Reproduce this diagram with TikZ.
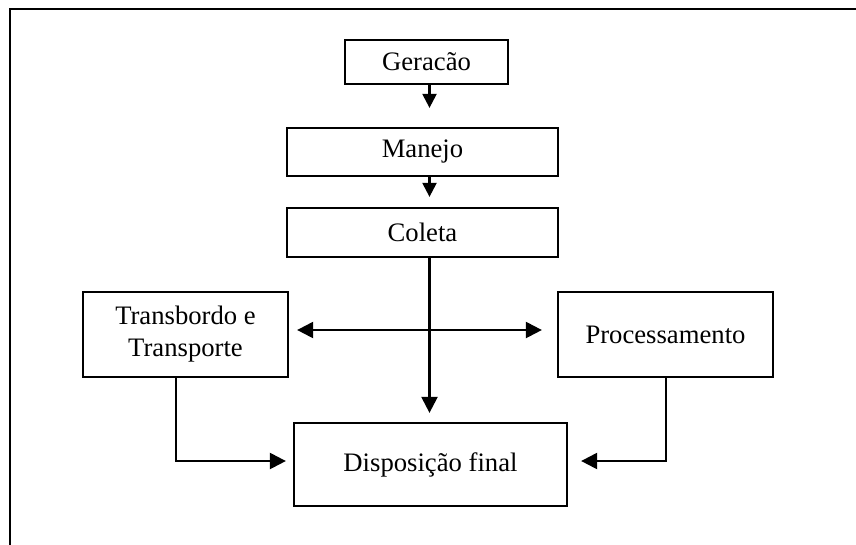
\documentclass[tikz,border=0pt]{standalone}
\usepackage{fontspec}
\setmainfont{Liberation Serif}
\usetikzlibrary{arrows.meta}
\begin{document}
\begin{tikzpicture}[x=0.75pt,y=-0.75pt,
  stage/.style={draw=black,line width=1.7pt,rectangle,inner sep=0pt,
    font=\fontsize{20}{24}\selectfont,align=center},
  link/.style={line width=1.7pt,draw=black},
  arr/.style={link,-{Triangle[length=12pt,width=12pt]}},
  smallarr/.style={link,-{Triangle[length=10.5pt,width=10.5pt]}},
  dblarr/.style={link,{Triangle[length=12pt,width=12pt]}-{Triangle[length=12pt,width=12pt]}}]
\useasboundingbox (0,0) rectangle (856,544);
% page frame (right and bottom edges fall outside the page)
\draw[line width=1.8pt] (10,9) rectangle (880,570);

% stages
\node[stage,minimum width=122.25pt,minimum height=33pt]    (gerac)  at (426.5,62)    {Geracão};
\node[stage,minimum width=203.25pt,minimum height=36pt]    (manejo) at (422.5,152)   {Manejo};
\node[stage,minimum width=203.25pt,minimum height=36.75pt] (coleta) at (422.5,232.5) {Coleta};
\node[stage,minimum width=153.75pt,minimum height=63.75pt] (transb) at (185.5,334.5) {Transbordo e\\Transporte};
\node[stage,minimum width=161.25pt,minimum height=63.75pt] (proc)   at (665.5,334.5) {Processamento};
\node[stage,minimum width=204.75pt,minimum height=62.25pt] (disp)   at (430.5,464.5) {Disposição final};

% guide columns and rows for the connectors
\coordinate (axis) at (429.5,0);
\coordinate (cross) at (0,330);
\coordinate (lcol) at (176,0);
\coordinate (rcol) at (666,0);
\coordinate (brow) at (0,461);

% main chain
\draw[smallarr,shorten >=14.25pt] (gerac.south -| axis) -- (manejo.north -| axis);
\draw[smallarr,shorten >=7.5pt]   (manejo.south -| axis) -- (coleta.north -| axis);
\draw[arr,shorten >=6.75pt]       (coleta.south -| axis) -- (disp.north -| axis);

% branch to both sides
\draw[dblarr,shorten <=6pt,shorten >=11.25pt] (transb.east |- cross) -- (proc.west |- cross);

% side stages into final disposal
\draw[arr,shorten >=5.25pt] (transb.south -| lcol) |- (disp.west |- brow);
\draw[arr,shorten >=9.75pt] (proc.south -| rcol) |- (disp.east |- brow);
\end{tikzpicture}
\end{document}
